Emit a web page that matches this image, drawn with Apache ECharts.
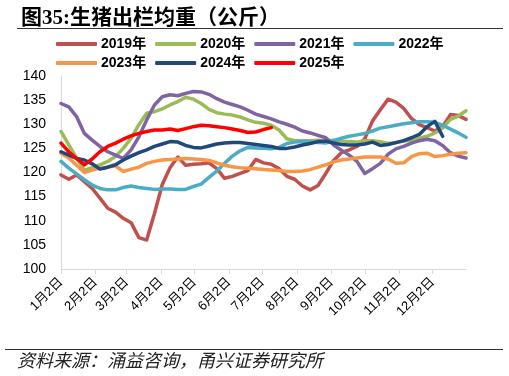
<!DOCTYPE html>
<html><head><meta charset="utf-8">
<script src="https://cdn.jsdelivr.net/npm/echarts@6/dist/echarts.min.js"></script>
<style>html,body{margin:0;padding:0;background:#fff}#c{width:509px;height:376px}</style>
</head><body><div id="c"></div>
<script>
const seriesNames = ['2019年','2020年','2021年','2022年','2023年','2024年','2025年'];
const seriesColors = ['#C0504D','#9BBB59','#8064A2','#4BACC6','#F79646','#1F497D','#FF0000'];
// day offset from Jan 2 for each weekly observation
const weekDays = [0,7,14,21,28,35,42,49,56,63,70,77,84,91,98,105,112,119,126,133,140,147,154,161,168,175,182,189,196,203,210,217,224,231,238,245,252,259,266,273,280,287,294,301,308,315,322,329,336,343,350,357,364];
const monthTickDays = [0,31,59,90,120,151,181,212,243,273,304,334];
const monthLabels = ['1月2日','2月2日','3月2日','4月2日','5月2日','6月2日','7月2日','8月2日','9月2日','10月2日','11月2日','12月2日'];
const yTicks = [100,105,110,115,120,125,130,135,140];

const v2019 = [119.5,118.6,119.5,118.1,116.7,114.7,112.6,111.8,110.5,109.6,106.5,106.0,111.5,117.5,121.0,123.2,121.5,121.7,121.8,122.0,120.8,118.8,119.2,119.8,120.4,122.7,122.0,121.7,120.8,119.2,118.6,117.2,116.4,117.3,119.8,122.5,124.1,124.7,125.4,127.0,130.7,133.0,135.2,134.6,133.3,131.2,129.9,129.3,128.6,129.5,132.0,131.8,131.0];
const v2020 = [128.5,125.7,123.0,120.5,121.0,121.6,122.3,123.3,125.0,127.1,129.9,132.3,132.6,133.2,134.0,134.7,135.6,135.2,134.3,133.1,132.4,132.1,131.9,131.5,130.9,130.4,130.2,129.8,128.8,127.0,126.6,126.6,126.6,126.7,126.6,126.7,126.5,126.4,126.3,126.6,126.6,126.4,126.0,126.2,126.5,126.7,127.1,127.5,128.2,129.2,131.0,131.7,132.8];
const v2021 = [134.3,133.6,131.6,128.1,126.7,125.4,124.3,123.6,122.9,124.7,127.4,130.9,134.0,135.7,136.1,135.9,136.4,136.8,136.7,136.2,135.3,134.6,134.1,133.6,132.9,132.1,131.6,131.1,130.5,130.0,129.4,128.6,128.2,127.7,127.2,125.7,124.6,123.6,122.3,119.8,120.8,121.9,123.8,124.9,125.4,126.1,126.6,126.9,126.6,125.6,124.1,123.4,123.0];
const v2022 = [122.3,120.9,119.7,118.5,117.4,116.7,116.4,116.4,116.9,117.2,116.9,116.7,116.5,116.6,116.6,116.5,116.5,117.1,117.6,119.0,120.3,121.9,123.4,124.5,125.2,125.1,125.0,124.9,125.2,126.0,126.3,126.4,126.3,126.2,126.1,126.6,127.1,127.5,127.8,128.1,128.6,129.2,129.5,129.8,130.1,130.3,130.5,130.5,130.4,129.8,129.0,128.2,127.3];
const v2023 = [124.0,123.0,121.5,120.0,120.5,120.9,121.1,121.4,120.2,120.7,121.1,121.9,122.3,122.6,122.7,122.8,122.9,122.8,122.7,122.5,122.0,121.5,121.2,121.0,120.9,120.8,120.6,120.5,120.4,120.2,120.2,120.3,120.6,121.1,121.6,122.2,122.6,122.8,123.0,123.2,123.2,123.2,122.8,121.9,122.0,123.3,123.9,124.0,123.3,123.5,123.8,124.0,124.1];
const v2024 = [124.3,123.6,122.9,122.6,121.8,120.7,121.1,121.6,122.6,123.4,124.1,124.7,125.4,125.9,126.4,126.3,125.6,125.2,125.1,125.5,125.9,126.1,126.2,126.2,126.0,125.8,125.6,125.4,125.0,125.0,125.3,125.7,126.0,126.4,126.5,126.1,125.8,125.7,125.7,125.9,126.3,125.6,125.8,126.2,126.6,127.2,127.9,129.5,130.6,127.5];
const v2025 = [126.1,124.3,122.9,121.6,122.8,124.3,125.4,126.1,126.9,127.6,128.1,128.5,128.8,128.8,129.0,128.7,129.1,129.5,129.8,129.7,129.5,129.3,129.0,128.7,128.3,128.4,128.9,129.3];
const allValues = [v2019,v2020,v2021,v2022,v2023,v2024,v2025];

const chart = echarts.init(document.getElementById('c'), null, {renderer:'canvas'});
const series = seriesNames.map((n,i)=>({
  name:n, type:'line', symbol:'none', smooth:false,
  data: allValues[i].map((v,k)=>[weekDays[k], v]),
  lineStyle:{color:seriesColors[i], width:3.5, join:'round', cap:'round'},
  itemStyle:{color:seriesColors[i]},
  emphasis:{disabled:true}, animation:false
}));
const legendCommon = {
  icon:'roundRect', itemWidth:41, itemHeight:4, itemGap:9, left:51,
  textStyle:{fontSize:14, fontWeight:'bold', color:'#000', fontFamily:'Liberation Sans, Noto Sans CJK SC', padding:[0,0,0,-1]}
};
chart.setOption({
  animation:false,
  backgroundColor:'#fff',
  title:{text:'图35:生猪出栏均重（公斤）', left:16, top:3,
    textStyle:{fontSize:21, fontWeight:'bold', color:'#000', fontFamily:'Liberation Serif, Noto Sans CJK SC'}},
  legend:[
    Object.assign({}, legendCommon, {top:32, data:seriesNames.slice(0,4)}),
    Object.assign({}, legendCommon, {top:51, data:seriesNames.slice(4)})
  ],
  grid:{left:61, right:43, top:76, bottom:107, containLabel:false},
  xAxis:{type:'value', min:0, max:364,
    axisLine:{show:true, lineStyle:{color:'#d9d9d9', width:1}},
    axisTick:{show:true, customValues:monthTickDays, length:5, lineStyle:{color:'#d9d9d9'}},
    axisLabel:{customValues:monthTickDays, rotate:45, margin:11, fontSize:13, color:'#000',
      fontFamily:'Liberation Sans, Noto Sans CJK SC',
      formatter:(v)=>monthLabels[monthTickDays.indexOf(v)]},
    splitLine:{show:false}},
  yAxis:{type:'value', min:yTicks[0], max:yTicks[yTicks.length-1], interval:5,
    axisLine:{show:true, lineStyle:{color:'#d9d9d9'}},
    axisTick:{show:false},
    axisLabel:{fontSize:14, color:'#000', margin:15, fontFamily:'Liberation Sans'},
    splitLine:{show:false}},
  graphic:[
    {type:'line', shape:{x1:17,y1:28.5,x2:503,y2:28.5}, style:{stroke:'#333', lineWidth:1}},
    {type:'line', shape:{x1:5,y1:349.5,x2:503,y2:349.5}, style:{stroke:'#333', lineWidth:1}},
    {type:'text', left:17, top:351, style:{text:'资料来源：涌益咨询，甬兴证券研究所', fontSize:18, fontStyle:'italic', fill:'#222', fontFamily:'Noto Sans CJK SC'}}
  ],
  series: series
});
</script></body></html>
